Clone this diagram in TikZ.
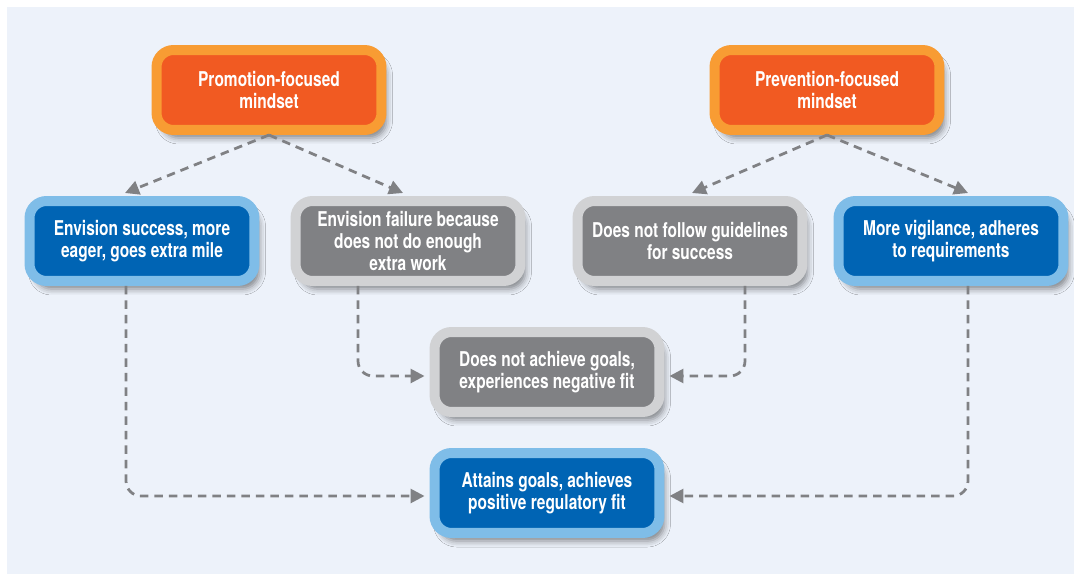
\documentclass[tikz,border=0pt]{standalone}
\usepackage{fontspec}
\setmainfont{TeX Gyre Heros}[FakeStretch=0.76]
\usepackage{tikz}
\usetikzlibrary{arrows.meta, shadows.blur}
\definecolor{bgcol}{HTML}{EDF2FA}
\definecolor{orangeout}{HTML}{F89C33}
\definecolor{orangein}{HTML}{F15A22}
\definecolor{blueout}{HTML}{7FBDE8}
\definecolor{bluein}{HTML}{0064B4}
\definecolor{grayout}{HTML}{D1D2D4}
\definecolor{grayin}{HTML}{808184}
\definecolor{linecol}{HTML}{808184}
\tikzstyle{box} = [rectangle, rounded corners=0.34cm, minimum width=4.5cm, minimum height=1.6cm, inner sep=0pt, text centered, align=center, line width=0.2cm, text=white, font=\fontsize{11.6}{12.5}\selectfont\bfseries, blur shadow={shadow xshift=0.1cm, shadow yshift=-0.16cm, shadow blur radius=0.12cm, shadow opacity=45}]
\tikzstyle{orangebox} = [box, draw=orangeout, fill=orangein]
\tikzstyle{bluebox} = [box, draw=blueout, fill=bluein]
\tikzstyle{graybox} = [box, draw=grayout, fill=grayin]
\tikzstyle{arrow} = [draw=linecol, line width=0.055cm, dash pattern=on 0.17cm off 0.12cm, -{Triangle[length=0.28cm, width=0.28cm]}]
\begin{document}
\begin{tikzpicture}[x=0.02cm, y=-0.02cm]
	\useasboundingbox (0,0) rectangle (1074,574);
	\fill[bgcol] (7,7) rectangle (1074,574);

	\node (promo) [orangebox] at (269,90) {Promotion-focused\\mindset};
	\node (prev) [orangebox] at (827,90) {Prevention-focused\\mindset};
	\node (succ) [bluebox] at (142,241) {Envision success, more\\eager, goes extra mile};
	\node (fail) [graybox] at (408,241) {Envision failure because\\does not do enough\\extra work};
	\node (nofollow) [graybox] at (690,241) {Does not follow guidelines\\for success};
	\node (vigil) [bluebox] at (951,241) {More vigilance, adheres\\to requirements};
	\node (neg) [graybox] at (547,372) {Does not achieve goals,\\experiences negative fit};
	\node (pos) [bluebox] at (547,493) {Attains goals, achieves\\positive regulatory fit};

	\draw [arrow] (promo.south) -- ([shift={(-17,-3)}]succ.north);
	\draw [arrow] (promo.south) -- ([shift={(-5,-3)}]fail.north);
	\draw [arrow] (prev.south) -- ([shift={(2,-3)}]nofollow.north);
	\draw [arrow] (prev.south) -- ([shift={(17,-3)}]vigil.north);
	\draw [arrow, rounded corners=0.3cm, shorten >=0.1cm] ([shift={(-16,0)}]succ.south) |- ([yshift=-0.06cm]pos.west);
	\draw [arrow, rounded corners=0.3cm, shorten >=0.1cm] ([shift={(-50,0)}]fail.south) |- ([yshift=-0.08cm]neg.west);
	\draw [arrow, rounded corners=0.3cm, shorten >=0.1cm] ([shift={(55,0)}]nofollow.south) |- ([yshift=-0.08cm]neg.east);
	\draw [arrow, rounded corners=0.3cm, shorten >=0.1cm] ([shift={(17,0)}]vigil.south) |- ([yshift=-0.06cm]pos.east);
\end{tikzpicture}
\end{document}
